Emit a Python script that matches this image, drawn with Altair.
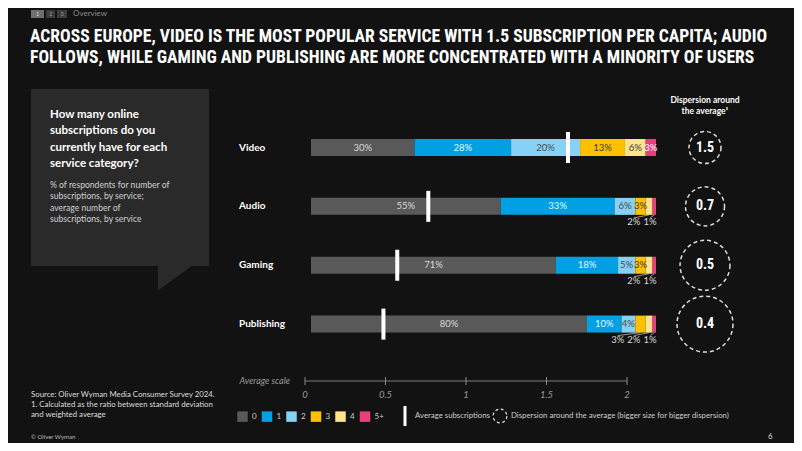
import altair as alt
import pandas as pd

# ---------------- data ----------------
categories = ["Video", "Audio", "Gaming", "Publishing"]
buckets = ["0", "1", "2", "3", "4", "5+"]
video_share = [30, 28, 20, 13, 6, 3]
audio_share = [55, 33, 6, 3, 2, 1]
gaming_share = [71, 18, 5, 3, 2, 1]
publishing_share = [80, 10, 4, 3, 2, 1]
average_subs = [1.49, 0.68, 0.50, 0.42]
dispersion_labels = ["1.5", "0.7", "0.5", "0.4"]
dispersion_size = [1.0, 1.22, 1.56, 1.75]   # relative circle size
below_labels = [("Audio", "4"), ("Audio", "5+"), ("Gaming", "4"), ("Gaming", "5+"),
                ("Publishing", "3"), ("Publishing", "4"), ("Publishing", "5+")]
scale_ticks = [0, 0.5, 1, 1.5, 2]
scale_tick_labels = ["0", "0.5", "1", "1.5", "2"]

bucket_colors = ["#595959", "#00a0e3", "#86d1f5", "#ffc000", "#ffe38f", "#e6407f"]
label_colors = ["#d9d9d9", "#e6f6ff", "#4a4a4a", "#3a3a3a", "#3a3a3a", "#ffffff"]

BG = "#121212"
BODY = "Lato"
COND = "Roboto Condensed"

# ---------------- tables ----------------
shares = [video_share, audio_share, gaming_share, publishing_share]
rows = []
for r, (cat, vals) in enumerate(zip(categories, shares)):
    start = 0
    below = [b for (c, b) in below_labels if c == cat]
    for i, (b, v) in enumerate(zip(buckets, vals)):
        end = start + v
        pos = "below" if b in below else "in"
        rows.append(dict(cat=cat, row=r, bucket=b, pct=v, start=start, end=end,
                         mid=(start + end) / 2, label=f"{v}%", pos=pos,
                         tcolor=label_colors[i]))
        start = end
df = pd.DataFrame(rows)
df["labx"] = df["mid"]
for cat in categories:
    sub = df[(df.cat == cat) & (df.pos == "below")].sort_values("start", ascending=False)
    for k, idx in enumerate(sub.index):
        df.loc[idx, "labx"] = 98.3 - 4.7 * k

avg_df = pd.DataFrame(dict(cat=categories, row=range(4), avg=average_subs,
                           disp=dispersion_size, dlabel=dispersion_labels))
ticks_df = pd.DataFrame(dict(t=scale_ticks, lab=scale_tick_labels))

# ---------------- scales ----------------
xs_pct = alt.Scale(domain=[0, 100], range=[303, 648], nice=False, zero=False)
xs_avg = alt.Scale(domain=[0, 2], range=[303, 648], nice=False, zero=False)
xs_axis = alt.Scale(domain=[0, 2], range=[297, 619], nice=False, zero=False)
ys = alt.Scale(domain=[0, 3], range=[134.5, 321.1], nice=False, zero=False)

one = pd.DataFrame({"d": [0]})


def text(s, x, y, size=9, color="#ffffff", weight="normal", font=BODY,
         align="left", italic=False, lh=None):
    kw = dict(fontSize=size, color=color, fontWeight=weight, font=font,
              align=align, baseline="middle")
    if italic:
        kw["fontStyle"] = "italic"
    if lh:
        kw["lineHeight"] = lh
    if "\n" in s:
        kw["lineBreak"] = "\n"
    return alt.Chart(pd.DataFrame({"t": [s]})).mark_text(**kw).encode(
        text="t:N", x=alt.value(x), y=alt.value(y))


def rect(x, x2, y, y2, color):
    return alt.Chart(one).mark_rect(color=color).encode(
        x=alt.value(x), x2=alt.value(x2), y=alt.value(y), y2=alt.value(y2))


layers = []

# breadcrumb
layers += [rect(23, 36, 2, 10, "#6e6e6e"), rect(38, 47, 2, 10, "#3c3c3c"),
           rect(49, 59, 2, 10, "#3c3c3c"),
           text("1", 29.5, 6, 5.5, "#dddddd", align="center"),
           text("2", 42.5, 6, 5.5, "#999999", align="center"),
           text("3", 54, 6, 5.5, "#999999", align="center"),
           text("Overview", 65, 6, 8, "#8a8a8a")]

# title
layers += [
    text("ACROSS EUROPE, VIDEO IS THE MOST POPULAR SERVICE WITH 1.5 SUBSCRIPTION PER CAPITA; AUDIO",
         22, 28.5, 17.6, "#ffffff", "bold", COND),
    text("FOLLOWS, WHILE GAMING AND PUBLISHING ARE MORE CONCENTRATED WITH A MINORITY OF USERS",
         22, 49.5, 17.6, "#ffffff", "bold", COND),
]

# question box with tail
layers.append(rect(23, 201, 81, 258, "#2a2a2a"))
layers.append(
    alt.Chart(one).mark_point(shape="M -1 -0.75 L 1 -0.75 L -1 0.7 Z", filled=True,
                              fill="#2a2a2a", strokeWidth=0, opacity=1, size=1156)
    .encode(x=alt.value(167), y=alt.value(270.5)))
layers.append(text("How many online\nsubscriptions do you\ncurrently have for each\nservice category?",
                   42, 107, 11.5, "#ffffff", "bold", lh=16.3))
layers.append(text("% of respondents for number of\nsubscriptions, by service;\naverage number of\nsubscriptions, by service",
                   42, 177, 8.6, "#d0d0d0", lh=11.4))

# category labels
layers.append(alt.Chart(avg_df).mark_text(align="left", baseline="middle", font=BODY,
                                          fontWeight="bold", fontSize=10, color="#ffffff")
              .encode(x=alt.value(231), y=alt.Y("row:Q", scale=ys, axis=None), text="cat:N"))

# bars
layers.append(
    alt.Chart(df).mark_bar(size=17, orient="horizontal").encode(
        x=alt.X("start:Q", scale=xs_pct, axis=None),
        x2="end:Q",
        y=alt.Y("row:Q", scale=ys, axis=None),
        color=alt.Color("bucket:N", scale=alt.Scale(domain=buckets, range=bucket_colors),
                        legend=alt.Legend(orient="none", legendX=229, legendY=403,
                                          direction="horizontal", title=None,
                                          symbolType="square", symbolSize=110,
                                          symbolStrokeWidth=0, labelColor="#cccccc",
                                          labelFont=BODY, labelFontSize=8,
                                          labelOffset=4, columnPadding=4.5, padding=0)),
    ))

# in-bar labels
layers.append(
    alt.Chart(df[df.pos == "in"]).mark_text(font=BODY, fontSize=9.5, baseline="middle")
    .encode(x=alt.X("mid:Q", scale=xs_pct, axis=None),
            y=alt.Y("row:Q", scale=ys, axis=None),
            text="label:N", color=alt.Color("tcolor:N", scale=None)))

# connectors + labels under the bars
layers.append(
    alt.Chart(df[df.pos == "below"]).mark_rule(color="#d0d0d0", strokeWidth=0.7,
                                               yOffset=8.5, y2Offset=11.5)
    .encode(x=alt.X("mid:Q", scale=xs_pct, axis=None), x2="labx:Q",
            y=alt.Y("row:Q", scale=ys, axis=None), y2="row:Q"))
layers.append(
    alt.Chart(df[df.pos == "below"]).mark_text(font=BODY, fontSize=9.5, baseline="middle",
                                               dy=16, color="#d9d9d9")
    .encode(x=alt.X("labx:Q", scale=xs_pct, axis=None),
            y=alt.Y("row:Q", scale=ys, axis=None), text="label:N"))

# average markers
layers.append(
    alt.Chart(avg_df).mark_rule(color="#ffffff", strokeWidth=4, yOffset=-15.5, y2Offset=15.5)
    .encode(x=alt.X("avg:Q", scale=xs_avg, axis=None),
            y=alt.Y("row:Q", scale=ys, axis=None), y2="row:Q"))

# dispersion circles
layers.append(text("Dispersion around\nthe average¹", 697, 92, 8.5, "#ffffff", "bold",
                   align="center", lh=10.5))
layers.append(
    alt.Chart(avg_df).mark_point(shape="circle", filled=False, color="#dddddd",
                                 strokeWidth=1.5, strokeDash=[4, 3], opacity=1)
    .encode(x=alt.value(697), y=alt.Y("row:Q", scale=ys, axis=None),
            size=alt.Size("disp:Q", scale=alt.Scale(type="pow", exponent=2,
                                                   domain=[0, 1.75], range=[0, 3136]),
                          legend=None)))
layers.append(
    alt.Chart(avg_df).mark_text(font=COND, fontWeight="bold", fontSize=14, color="#ffffff",
                                baseline="middle")
    .encode(x=alt.value(697), y=alt.Y("row:Q", scale=ys, axis=None), text="dlabel:N"))

# average scale
layers.append(text("Average scale", 282, 373, 9, "#9a9a9a", align="right", italic=True))
layers.append(
    alt.Chart(pd.DataFrame({"a": [0], "b": [2]})).mark_rule(color="#7a7a7a", strokeWidth=1)
    .encode(x=alt.X("a:Q", scale=xs_axis, axis=None), x2="b:Q", y=alt.value(373)))
layers.append(
    alt.Chart(ticks_df).mark_rule(color="#8a8a8a", strokeWidth=1)
    .encode(x=alt.X("t:Q", scale=xs_axis, axis=None), y=alt.value(369), y2=alt.value(377)))
layers.append(
    alt.Chart(ticks_df).mark_text(font=BODY, fontStyle="italic", fontSize=9.5,
                                  color="#9a9a9a", baseline="middle")
    .encode(x=alt.X("t:Q", scale=xs_axis, axis=None), y=alt.value(387), text="lab:N"))

# other legend items
layers.append(alt.Chart(one).mark_rule(color="#ffffff", strokeWidth=3)
              .encode(x=alt.value(397), y=alt.value(398), y2=alt.value(418)))
layers.append(text("Average subscriptions", 407, 408, 7.8, "#cccccc"))
layers.append(alt.Chart(one).mark_point(shape="circle", filled=False, color="#dddddd",
                                        strokeWidth=1.2, strokeDash=[3, 2.5], opacity=1,
                                        size=190)
              .encode(x=alt.value(492), y=alt.value(408)))
layers.append(text("Dispersion around the average (bigger size for bigger dispersion)",
                   503, 408, 7.8, "#cccccc"))

# source / footer
layers.append(text("Source: Oliver Wyman Media Consumer Survey 2024.\n1. Calculated as the ratio between standard deviation\nand weighted average",
                   23, 387, 7.8, "#dddddd", lh=9.8))
layers.append(text("© Oliver Wyman", 23, 428.5, 6, "#bbbbbb"))
layers.append(text("6", 760, 429, 8, "#dddddd"))

chart = (alt.layer(*layers)
         .resolve_scale(x="independent", color="independent", size="independent")
         .properties(width=786, height=435, autosize="none", padding=0, background=BG)
         .configure_view(strokeWidth=0))

chart.save("out.html", embed_options={"renderer": "svg", "actions": False})
